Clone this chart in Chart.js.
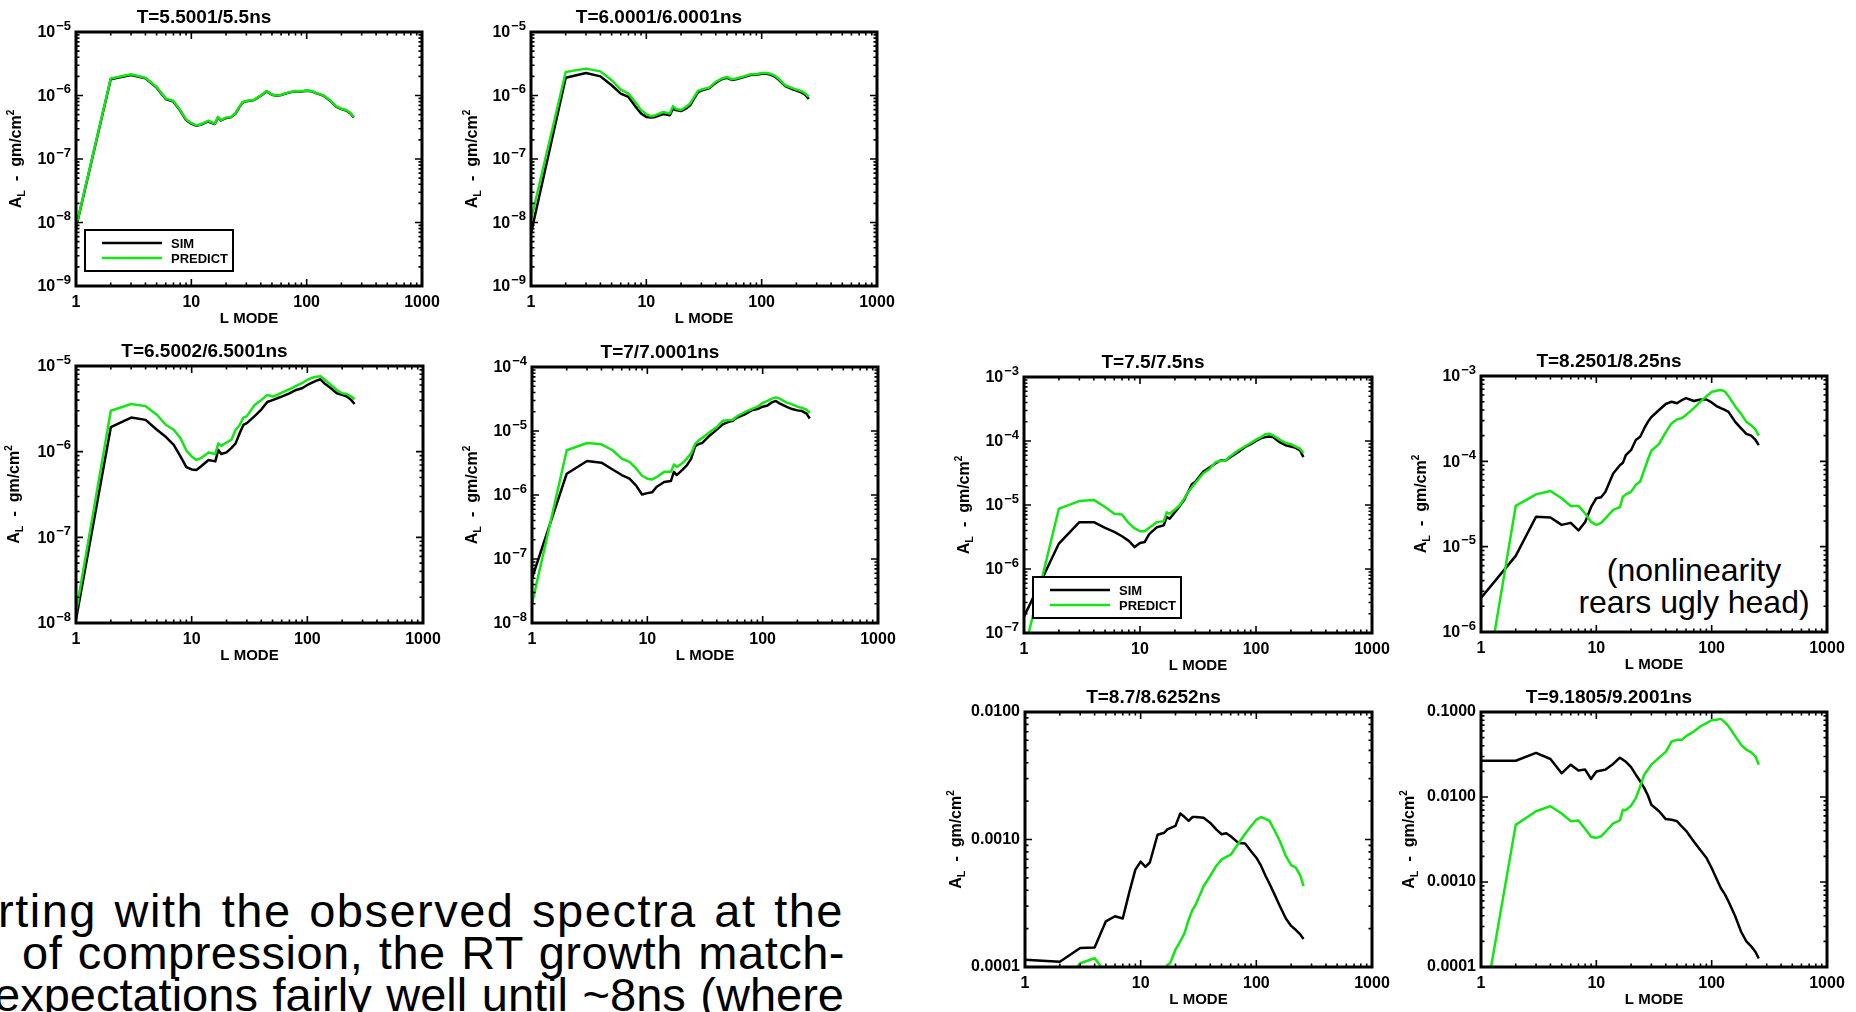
<!DOCTYPE html>
<html>
<head>
<meta charset="utf-8">
<script src="https://cdn.jsdelivr.net/npm/chart.js@4.4.1/dist/chart.umd.min.js"></script>
<style>
  html, body { margin: 0; padding: 0; background: #fff; }
  body { width: 1856px; height: 1012px; overflow: hidden; position: relative;
         font-family: 'Liberation Sans', Arial, Helvetica, sans-serif; color: #000; }
  canvas.panel { position: absolute; }
  .note { position: absolute; left: 1544px; top: 555px; width: 300px; text-align: center;
          font-size: 32px; line-height: 31.5px; }
  .para { position: absolute; font-size: 47px; line-height: 47px; text-align: justify;
          text-align-last: justify; white-space: nowrap; }
</style>
</head>
<body>

<div class="note">(nonlinearity<br>rears ugly head)</div>
<div class="para" style="left:-2px; top:887px; width:846px; letter-spacing:1.5px;">rting with the observed spectra at the</div>
<div class="para" style="left:22px; top:929px; width:823px; letter-spacing:0.5px;">of compression, the RT growth match-</div>
<div class="para" style="left:-6px; top:971px; width:850px;">expectations fairly well until ~8ns (where</div>

<script>
// L mode numbers where the spectra were read
const modes = [1, 2, 3, 4, 5, 6, 7, 8, 9, 10, 11, 12, 14, 16, 17, 18, 20, 22, 24, 26, 28, 30,
  35, 40, 45, 50, 55, 60, 70, 80, 90, 100, 110, 120, 130, 140, 160, 180, 200, 220, 240, 256];

// T = 5.5 ns
const sim1 = [8.3e-9, 1.8e-6, 2.1e-6, 1.86e-6, 1.33e-6, 8.8e-7, 8.0e-7, 5.8e-7, 4.1e-7, 3.6e-7, 3.35e-7, 3.45e-7,
  3.9e-7, 3.55e-7, 4.5e-7, 4.05e-7, 4.4e-7, 4.55e-7, 5.1e-7, 6.5e-7, 7.8e-7, 8.1e-7, 8.5e-7, 9.9e-7, 1.16e-6,
  1.03e-6, 9.9e-7, 1.02e-6, 1.11e-6, 1.17e-6, 1.16e-6, 1.19e-6, 1.17e-6, 1.09e-6, 1.04e-6, 9.9e-7, 8.3e-7,
  6.7e-7, 6.1e-7, 5.8e-7, 5.2e-7, 4.5e-7];
const pred1 = [8.5e-9, 1.85e-6, 2.16e-6, 1.9e-6, 1.36e-6, 9.0e-7, 8.2e-7, 5.9e-7, 4.2e-7, 3.7e-7, 3.4e-7, 3.5e-7,
  4.0e-7, 3.6e-7, 4.6e-7, 4.1e-7, 4.5e-7, 4.6e-7, 5.2e-7, 6.6e-7, 7.9e-7, 8.2e-7, 8.6e-7, 1.0e-6, 1.18e-6,
  1.04e-6, 1.0e-6, 1.03e-6, 1.12e-6, 1.18e-6, 1.17e-6, 1.2e-6, 1.18e-6, 1.1e-6, 1.05e-6, 1.0e-6, 8.4e-7,
  6.8e-7, 6.2e-7, 5.9e-7, 5.3e-7, 4.6e-7];

// T = 6.0 ns
const sim2 = [6.8e-9, 1.9e-6, 2.26e-6, 2.0e-6, 1.45e-6, 1.07e-6, 9.5e-7, 6.8e-7, 5.2e-7, 4.6e-7, 4.5e-7, 4.6e-7,
  5.1e-7, 4.9e-7, 6.2e-7, 5.9e-7, 5.7e-7, 6.2e-7, 7.0e-7, 9.0e-7, 1.12e-6, 1.2e-6, 1.3e-6, 1.58e-6, 1.8e-6,
  1.9e-6, 1.76e-6, 1.8e-6, 1.95e-6, 2.1e-6, 2.12e-6, 2.2e-6, 2.2e-6, 2.12e-6, 1.98e-6, 1.78e-6, 1.4e-6,
  1.28e-6, 1.2e-6, 1.12e-6, 1.02e-6, 8.8e-7];
const pred2 = [1.1e-8, 2.35e-6, 2.65e-6, 2.4e-6, 1.74e-6, 1.24e-6, 1.07e-6, 7.9e-7, 5.9e-7, 5.1e-7, 4.7e-7, 4.9e-7,
  5.5e-7, 5.2e-7, 6.8e-7, 6.2e-7, 5.9e-7, 6.6e-7, 7.5e-7, 9.5e-7, 1.18e-6, 1.24e-6, 1.33e-6, 1.64e-6, 1.85e-6,
  1.96e-6, 1.8e-6, 1.85e-6, 2.0e-6, 2.16e-6, 2.16e-6, 2.26e-6, 2.26e-6, 2.2e-6, 2.05e-6, 1.85e-6, 1.45e-6,
  1.33e-6, 1.24e-6, 1.18e-6, 1.07e-6, 9.5e-7];

// T = 6.5 ns
const sim3 = [1.1e-8, 1.93e-6, 2.5e-6, 2.35e-6, 1.8e-6, 1.48e-6, 1.2e-6, 8.8e-7, 6.6e-7, 6.2e-7, 6.1e-7, 6.7e-7,
  8.0e-7, 7.7e-7, 1.05e-6, 9.4e-7, 9.8e-7, 1.1e-6, 1.25e-6, 1.64e-6, 2.05e-6, 2.15e-6, 2.6e-6, 3.1e-6, 3.8e-6,
  4.0e-6, 4.2e-6, 4.4e-6, 4.8e-6, 5.25e-6, 5.5e-6, 6.0e-6, 6.4e-6, 6.75e-6, 7.0e-6, 6.3e-6, 5.5e-6,
  4.8e-6, 4.6e-6, 4.4e-6, 4.0e-6, 3.6e-6];
const pred3 = [1.33e-8, 3.0e-6, 3.6e-6, 3.4e-6, 2.7e-6, 2.05e-6, 1.8e-6, 1.44e-6, 1.03e-6, 8.8e-7, 8.0e-7, 8.4e-7,
  9.8e-7, 9.4e-7, 1.25e-6, 1.17e-6, 1.28e-6, 1.37e-6, 1.8e-6, 2.05e-6, 2.5e-6, 2.6e-6, 3.5e-6, 4.0e-6, 4.6e-6,
  4.4e-6, 4.6e-6, 4.9e-6, 5.35e-6, 5.85e-6, 6.3e-6, 6.9e-6, 7.3e-6, 7.5e-6, 7.6e-6, 7.0e-6, 6.0e-6,
  5.25e-6, 4.8e-6, 4.7e-6, 4.4e-6, 4.1e-6];

// T = 7 ns
const sim4 = [5.0e-8, 2.15e-6, 3.4e-6, 3.2e-6, 2.5e-6, 2.05e-6, 1.8e-6, 1.4e-6, 1.02e-6, 1.07e-6, 1.1e-6, 1.33e-6,
  1.6e-6, 1.65e-6, 2.3e-6, 2.05e-6, 2.45e-6, 2.9e-6, 3.7e-6, 5.8e-6, 6.3e-6, 6.5e-6, 8.6e-6, 1.05e-5, 1.27e-5,
  1.38e-5, 1.44e-5, 1.62e-5, 1.82e-5, 2.1e-5, 2.2e-5, 2.4e-5, 2.5e-5, 2.8e-5, 2.95e-5, 2.7e-5, 2.4e-5,
  2.2e-5, 2.1e-5, 2.05e-5, 1.87e-5, 1.57e-5];
const pred4 = [2.0e-8, 5.0e-6, 6.5e-6, 6.2e-6, 5.0e-6, 3.7e-6, 3.3e-6, 2.6e-6, 2.0e-6, 1.8e-6, 1.75e-6, 1.9e-6,
  2.3e-6, 2.3e-6, 3.0e-6, 2.75e-6, 3.1e-6, 3.7e-6, 4.5e-6, 6.3e-6, 7.2e-6, 7.8e-6, 9.7e-6, 1.15e-5, 1.44e-5,
  1.47e-5, 1.5e-5, 1.7e-5, 1.98e-5, 2.2e-5, 2.4e-5, 2.74e-5, 2.95e-5, 3.2e-5, 3.35e-5, 3.2e-5, 2.8e-5,
  2.6e-5, 2.4e-5, 2.3e-5, 2.15e-5, 1.9e-5];

// T = 7.5 ns
const sim5 = [1.8e-7, 2.5e-6, 5.4e-6, 5.4e-6, 4.4e-6, 3.8e-6, 3.25e-6, 2.75e-6, 2.2e-6, 2.55e-6, 2.65e-6, 3.5e-6,
  4.5e-6, 4.8e-6, 6.5e-6, 6.1e-6, 7.7e-6, 9.6e-6, 1.2e-5, 1.6e-5, 2.1e-5, 2.3e-5, 3.3e-5, 3.9e-5, 4.5e-5,
  5.0e-5, 5.0e-5, 5.6e-5, 6.7e-5, 8.0e-5, 8.9e-5, 1.0e-4, 1.1e-4, 1.15e-4, 1.18e-4, 1.15e-4, 9.6e-5,
  8.6e-5, 8.2e-5, 7.8e-5, 7.1e-5, 5.6e-5];
const pred5 = [5.0e-8, 8.8e-6, 1.15e-5, 1.2e-5, 9.3e-6, 7.3e-6, 7.1e-6, 5.2e-6, 4.3e-6, 3.9e-6, 3.9e-6, 4.4e-6,
  5.4e-6, 5.6e-6, 7.7e-6, 7.3e-6, 8.5e-6, 9.9e-6, 1.25e-5, 1.6e-5, 1.9e-5, 2.2e-5, 3.1e-5, 3.7e-5, 4.7e-5,
  4.9e-5, 5.0e-5, 5.8e-5, 7.1e-5, 8.2e-5, 9.3e-5, 1.05e-4, 1.15e-4, 1.27e-4, 1.3e-4, 1.23e-4, 1.05e-4,
  9.3e-5, 8.9e-5, 8.2e-5, 7.6e-5, 6.5e-5];

// T = 8.25 ns
const sim6 = [2.5e-6, 7.8e-6, 2.24e-5, 2.2e-5, 1.8e-5, 1.9e-5, 1.55e-5, 1.95e-5, 2.9e-5, 3.7e-5, 3.8e-5, 4.4e-5,
  7.2e-5, 9.0e-5, 9.6e-5, 1.18e-4, 1.35e-4, 1.78e-4, 1.94e-4, 2.43e-4, 2.9e-4, 3.3e-4, 4.0e-4, 4.7e-4, 5.0e-4,
  4.8e-4, 5.2e-4, 5.5e-4, 5.1e-4, 5.3e-4, 5.3e-4, 4.9e-4, 4.45e-4, 4.2e-4, 4.0e-4, 3.8e-4, 2.9e-4,
  2.43e-4, 2.1e-4, 2.0e-4, 1.78e-4, 1.55e-4];
const pred6 = [1.1e-7, 3.0e-5, 4.1e-5, 4.5e-5, 3.7e-5, 3.0e-5, 3.0e-5, 2.45e-5, 1.95e-5, 1.8e-5, 1.9e-5, 2.15e-5,
  2.7e-5, 2.9e-5, 3.85e-5, 4.1e-5, 4.4e-5, 5.3e-5, 5.8e-5, 7.9e-5, 1.05e-4, 1.33e-4, 1.6e-4, 2.2e-4, 2.8e-4,
  3.1e-4, 3.2e-4, 3.5e-4, 4.2e-4, 5.0e-4, 5.8e-4, 6.5e-4, 6.7e-4, 6.85e-4, 6.6e-4, 5.8e-4, 4.4e-4,
  3.6e-4, 2.9e-4, 2.65e-4, 2.35e-4, 2.0e-4];

// T = 8.7 ns
const sim7 = [1.14e-4, 1.1e-4, 1.41e-4, 1.42e-4, 2.28e-4, 2.5e-4, 2.4e-4, 3.9e-4, 5.8e-4, 6.7e-4, 6.1e-4, 6.6e-4,
  1.09e-3, 1.13e-3, 1.2e-3, 1.23e-3, 1.28e-3, 1.6e-3, 1.5e-3, 1.4e-3, 1.5e-3, 1.5e-3, 1.48e-3, 1.35e-3, 1.2e-3,
  1.1e-3, 1.12e-3, 1.06e-3, 9.4e-4, 9.3e-4, 8.1e-4, 7.2e-4, 6.2e-4, 5.2e-4, 4.5e-4, 3.9e-4, 3.0e-4,
  2.4e-4, 2.1e-4, 1.95e-4, 1.8e-4, 1.66e-4];
const pred7 = [5.0e-5, 7.0e-5, 1.07e-4, 1.17e-4, 9.0e-5, 6.5e-5, 5.5e-5, 4.5e-5, 3.8e-5, 3.5e-5, 3.6e-5, 4.2e-5,
  5.5e-5, 7.5e-5, 1.04e-4, 1.07e-4, 1.37e-4, 1.59e-4, 1.85e-4, 2.35e-4, 2.8e-4, 3.1e-4, 4.3e-4, 5.2e-4, 6.2e-4,
  6.95e-4, 7.3e-4, 7.6e-4, 9.3e-4, 1.11e-3, 1.27e-3, 1.43e-3, 1.5e-3, 1.45e-3, 1.4e-3, 1.23e-3, 9.7e-4,
  7.4e-4, 6.3e-4, 6.0e-4, 5.2e-4, 4.3e-4];

// T = 9.2 ns
const sim8 = [2.67e-2, 2.67e-2, 3.3e-2, 2.8e-2, 1.9e-2, 2.4e-2, 2.05e-2, 2.1e-2, 1.63e-2, 2.0e-2, 2.05e-2, 2.1e-2,
  2.45e-2, 2.9e-2, 2.75e-2, 2.6e-2, 2.25e-2, 1.83e-2, 1.53e-2, 1.28e-2, 1.04e-2, 8.1e-3, 6.8e-3, 5.5e-3, 5.4e-3,
  5.2e-3, 4.5e-3, 4.0e-3, 3.0e-3, 2.36e-3, 1.93e-3, 1.46e-3, 1.1e-3, 8.5e-4, 7.2e-4, 5.9e-4, 3.95e-4,
  2.6e-4, 2.0e-4, 1.75e-4, 1.5e-4, 1.26e-4];
const pred8 = [2.1e-5, 4.7e-3, 6.8e-3, 7.8e-3, 6.4e-3, 5.2e-3, 5.3e-3, 4.2e-3, 3.4e-3, 3.3e-3, 3.45e-3, 3.9e-3,
  4.9e-3, 5.3e-3, 7.1e-3, 7.0e-3, 7.9e-3, 9.7e-3, 1.33e-2, 1.83e-2, 2.1e-2, 2.4e-2, 2.9e-2, 3.4e-2, 4.5e-2,
  4.7e-2, 4.7e-2, 5.2e-2, 5.9e-2, 6.8e-2, 7.4e-2, 8.0e-2, 8.1e-2, 8.3e-2, 7.6e-2, 6.8e-2, 5.2e-2,
  4.1e-2, 3.6e-2, 3.35e-2, 3.0e-2, 2.4e-2];

const titles = ['T=5.5001/5.5ns', 'T=6.0001/6.0001ns', 'T=6.5002/6.5001ns', 'T=7/7.0001ns',
  'T=7.5/7.5ns', 'T=8.2501/8.25ns', 'T=8.7/8.6252ns', 'T=9.1805/9.2001ns'];
const yMins = [1e-9, 1e-9, 1e-8, 1e-8, 1e-7, 1e-6, 1e-4, 1e-4];
const yMaxs = [1e-5, 1e-5, 1e-5, 1e-4, 1e-3, 1e-3, 1e-2, 1e-1];
const xTicks = [1, 10, 100, 1000];
const seriesNames = ['SIM', 'PREDICT'];

// plot-area boxes in page pixels: left, top, right, bottom
const boxes = [
  [76, 32, 422, 286], [531, 32, 877, 286],
  [76, 366, 423, 623], [532, 367, 878, 623],
  [1024, 377, 1372, 633], [1481, 376, 1827, 632],
  [1025, 712, 1372, 967], [1481, 712, 1827, 967]
];
const sims = [sim1, sim2, sim3, sim4, sim5, sim6, sim7, sim8];
const preds = [pred1, pred2, pred3, pred4, pred5, pred6, pred7, pred8];
const decimalLabels = [false, false, false, false, false, false, true, true];
const hasLegend = [true, false, false, false, true, false, false, false];
const yTitleGap = [59, 58, 61, 59, 59, 59, 68, 71];

const FONT = "'Liberation Sans', Arial, Helvetica, sans-serif";
const GREEN = '#14e614';
Chart.defaults.font.family = FONT;
Chart.defaults.color = '#000';

function decades(min, max) {
  const out = [];
  for (let e = Math.round(Math.log10(min)); e <= Math.round(Math.log10(max)); e++) out.push(Math.pow(10, e));
  return out;
}
function logTicks(min, max) {
  const out = [];
  for (let e = Math.floor(Math.log10(min)); e < Math.ceil(Math.log10(max)) + 1; e++) {
    for (let k = 1; k <= 9; k++) {
      const v = k * Math.pow(10, e);
      if (v >= min * 0.999 && v <= max * 1.001) out.push({ v, major: k === 1 });
    }
  }
  return out;
}

// IDL-like frame: thick box, inward ticks on all four sides, 10^n labels, y title, legend
const framePlugin = {
  id: 'frame',
  afterDatasetsDraw(chart, args, opts) {
    const { ctx, chartArea: a } = chart;
    const xs = chart.scales.x, ys = chart.scales.y;
    ctx.save();
    ctx.strokeStyle = '#000';
    ctx.lineWidth = 1.6;
    ctx.beginPath();
    logTicks(xs.min, xs.max).forEach(t => {
      const px = xs.getPixelForValue(t.v), len = t.major ? 7 : 3.5;
      ctx.moveTo(px, a.bottom); ctx.lineTo(px, a.bottom - len);
      ctx.moveTo(px, a.top); ctx.lineTo(px, a.top + len);
    });
    logTicks(ys.min, ys.max).forEach(t => {
      const py = ys.getPixelForValue(t.v), len = t.major ? 7 : 3.5;
      ctx.moveTo(a.left, py); ctx.lineTo(a.left + len, py);
      ctx.moveTo(a.right, py); ctx.lineTo(a.right - len, py);
    });
    ctx.stroke();
    ctx.lineWidth = 3;
    ctx.strokeRect(a.left, a.top, a.right - a.left, a.bottom - a.top);

    // exponent-style y tick labels, placed by the y scale
    ctx.fillStyle = '#000';
    ctx.textBaseline = 'middle';
    if (opts.expLabels) {
      ys.ticks.forEach(t => {
        const py = ys.getPixelForValue(t.value);
        const ex = '\u2212' + String(-Math.round(Math.log10(t.value)));
        ctx.font = 'bold 13px ' + FONT;
        const ew = ctx.measureText(ex).width;
        const right = a.left - 5;
        ctx.textAlign = 'right';
        ctx.fillText(ex, right, py - 6);
        ctx.font = 'bold 16px ' + FONT;
        ctx.fillText('10', right - ew - 1, py + 1);
      });
      ctx.textAlign = 'left';
    }

    // y title  A_L - gm/cm^2
    ctx.translate(a.left - opts.yGap, (a.top + a.bottom) / 2);
    ctx.rotate(-Math.PI / 2);
    const parts = [
      { t: 'A', f: 'bold 16px ' + FONT, dy: 0 },
      { t: 'L', f: 'bold 11px ' + FONT, dy: 5 },
      { t: '  -  gm/cm', f: 'bold 16px ' + FONT, dy: 0 },
      { t: '2', f: 'bold 10px ' + FONT, dy: -6 }
    ];
    let total = 0;
    parts.forEach(p => { ctx.font = p.f; p.w = ctx.measureText(p.t).width; total += p.w; });
    let cx = -total / 2;
    parts.forEach(p => { ctx.font = p.f; ctx.fillText(p.t, cx, p.dy); cx += p.w; });
    ctx.restore();

    if (opts.legend) {
      const bx = a.left + 9, by = a.bottom - 56, bw = 148, bh = 41;
      ctx.save();
      ctx.fillStyle = '#fff';
      ctx.fillRect(bx, by, bw, bh);
      ctx.lineWidth = 2;
      ctx.strokeStyle = '#000';
      ctx.strokeRect(bx, by, bw, bh);
      chart.data.datasets.forEach((ds, i) => {
        const ly = by + 13 + i * 15;
        ctx.strokeStyle = ds.borderColor;
        ctx.lineWidth = 2.5;
        ctx.beginPath(); ctx.moveTo(bx + 17, ly); ctx.lineTo(bx + 77, ly); ctx.stroke();
        ctx.fillStyle = '#000';
        ctx.font = 'bold 13px ' + FONT;
        ctx.textBaseline = 'middle';
        ctx.fillText(ds.label, bx + 86, ly + 1);
      });
      ctx.restore();
    }
  }
};

const WY = 90, RPAD = 30, TITLE_H = 25, HX = 44;

titles.forEach((title, i) => {
  const [l, t, r, b] = boxes[i];
  const cv = document.createElement('canvas');
  cv.className = 'panel';
  const w = WY + (r - l) + RPAD, h = TITLE_H + (b - t) + HX;
  cv.width = w; cv.height = h;
  cv.style.width = w + 'px'; cv.style.height = h + 'px';
  cv.style.left = (l - WY) + 'px'; cv.style.top = (t - TITLE_H) + 'px';
  document.body.appendChild(cv);

  const yMin = yMins[i], yMax = yMaxs[i];
  new Chart(cv.getContext('2d'), {
    type: 'line',
    data: {
      datasets: [
        { label: seriesNames[0], data: modes.map((m, k) => ({ x: m, y: sims[i][k] })),
          borderColor: '#000', borderWidth: 2.5, pointRadius: 0, order: 1, borderJoinStyle: 'round' },
        { label: seriesNames[1], data: modes.map((m, k) => ({ x: m, y: preds[i][k] })),
          borderColor: GREEN, borderWidth: 2.5, pointRadius: 0, order: 0, borderJoinStyle: 'round' }
      ]
    },
    options: {
      responsive: false,
      animation: false,
      devicePixelRatio: 1,
      layout: { padding: { left: 0, top: 0, right: RPAD, bottom: 0 } },
      plugins: {
        legend: { display: false },
        tooltip: { enabled: false },
        title: { display: true, text: title, color: '#000',
          font: { size: 19, weight: 'bold', lineHeight: 22 / 19 }, padding: { top: 0, bottom: 3 } },
        frame: { legend: hasLegend[i], yGap: yTitleGap[i], expLabels: !decimalLabels[i] }
      },
      scales: {
        x: {
          type: 'logarithmic', min: 1, max: 1000,
          afterBuildTicks: s => { s.ticks = xTicks.map(v => ({ value: v })); },
          afterFit: s => { s.height = HX; },
          grid: { display: false, drawTicks: false }, border: { display: false },
          ticks: { color: '#000', font: { size: 16, weight: 'bold' }, padding: 7, maxRotation: 0,
            autoSkip: false, callback: v => String(v) },
          title: { display: true, text: 'L MODE', color: '#000',
            font: { size: 15, weight: 'bold', lineHeight: 1.2 }, padding: { top: 0, bottom: 2 } }
        },
        y: {
          type: 'logarithmic', min: yMin, max: yMax,
          afterBuildTicks: s => { s.ticks = decades(yMin, yMax).map(v => ({ value: v })); },
          afterFit: s => { s.width = WY; },
          grid: { display: false, drawTicks: false }, border: { display: false },
          ticks: { display: decimalLabels[i], color: '#000', font: { size: 16, weight: 'bold' },
            padding: 5, autoSkip: false, callback: v => v.toFixed(4) }
        }
      }
    },
    plugins: [framePlugin]
  });
});
</script>
</body>
</html>
